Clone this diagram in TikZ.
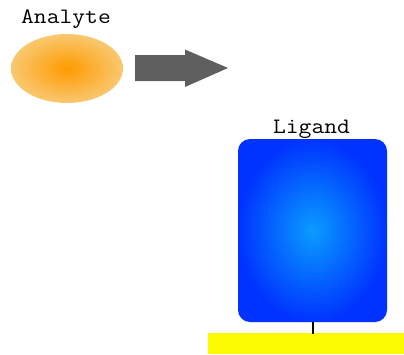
\documentclass[tikz,border=0pt]{standalone}
\usepackage{fontspec}
\usetikzlibrary{shapes.geometric}
\definecolor{orin}{HTML}{FF9A00}
\definecolor{orout}{HTML}{F9C870}
\definecolor{blin}{HTML}{0A9CFF}
\definecolor{blout}{HTML}{0033FF}
\definecolor{arrowgray}{HTML}{5F5F5F}
\definecolor{baryellow}{HTML}{FCFA00}
\newcommand{\courtext}[1]{\scalebox{1.13}[1]{\ttfamily\fontsize{22}{22}\selectfont #1}}
\tikzset{
  lbl/.style={inner sep=0pt, anchor=base},
}
\begin{document}
\begin{tikzpicture}[x=1pt,y=-1pt]
\useasboundingbox (0,0) rectangle (404,354);
% analyte
\node[ellipse, minimum width=112pt, minimum height=69pt, inner sep=0pt,
      inner color=orin, outer color=orout] (analyte) at (67,68.5) {};
\node[lbl] (analytelbl) at (66,23.5) {\courtext{Analyte}};
% arrow
\fill[arrowgray] (135,55) -- (185,55) -- (185,49.5) -- (228,68) -- (185,87) -- (185,81) -- (135,81) -- cycle;
% ligand
\node[draw=none, rounded corners=12pt, minimum width=149pt, minimum height=183pt,
      inner sep=0pt, inner color=blin, outer color=blout] (ligand) at (312.5,230.5) {};
\node[lbl] (ligandlbl) at (311.5,133) {\courtext{Ligand}};
% surface
\fill[baryellow] (208,333) rectangle (404,354);
\coordinate (surf) at (313,334);
\draw[line width=2pt] (ligand.south -| surf) -- (surf);
\end{tikzpicture}
\end{document}
